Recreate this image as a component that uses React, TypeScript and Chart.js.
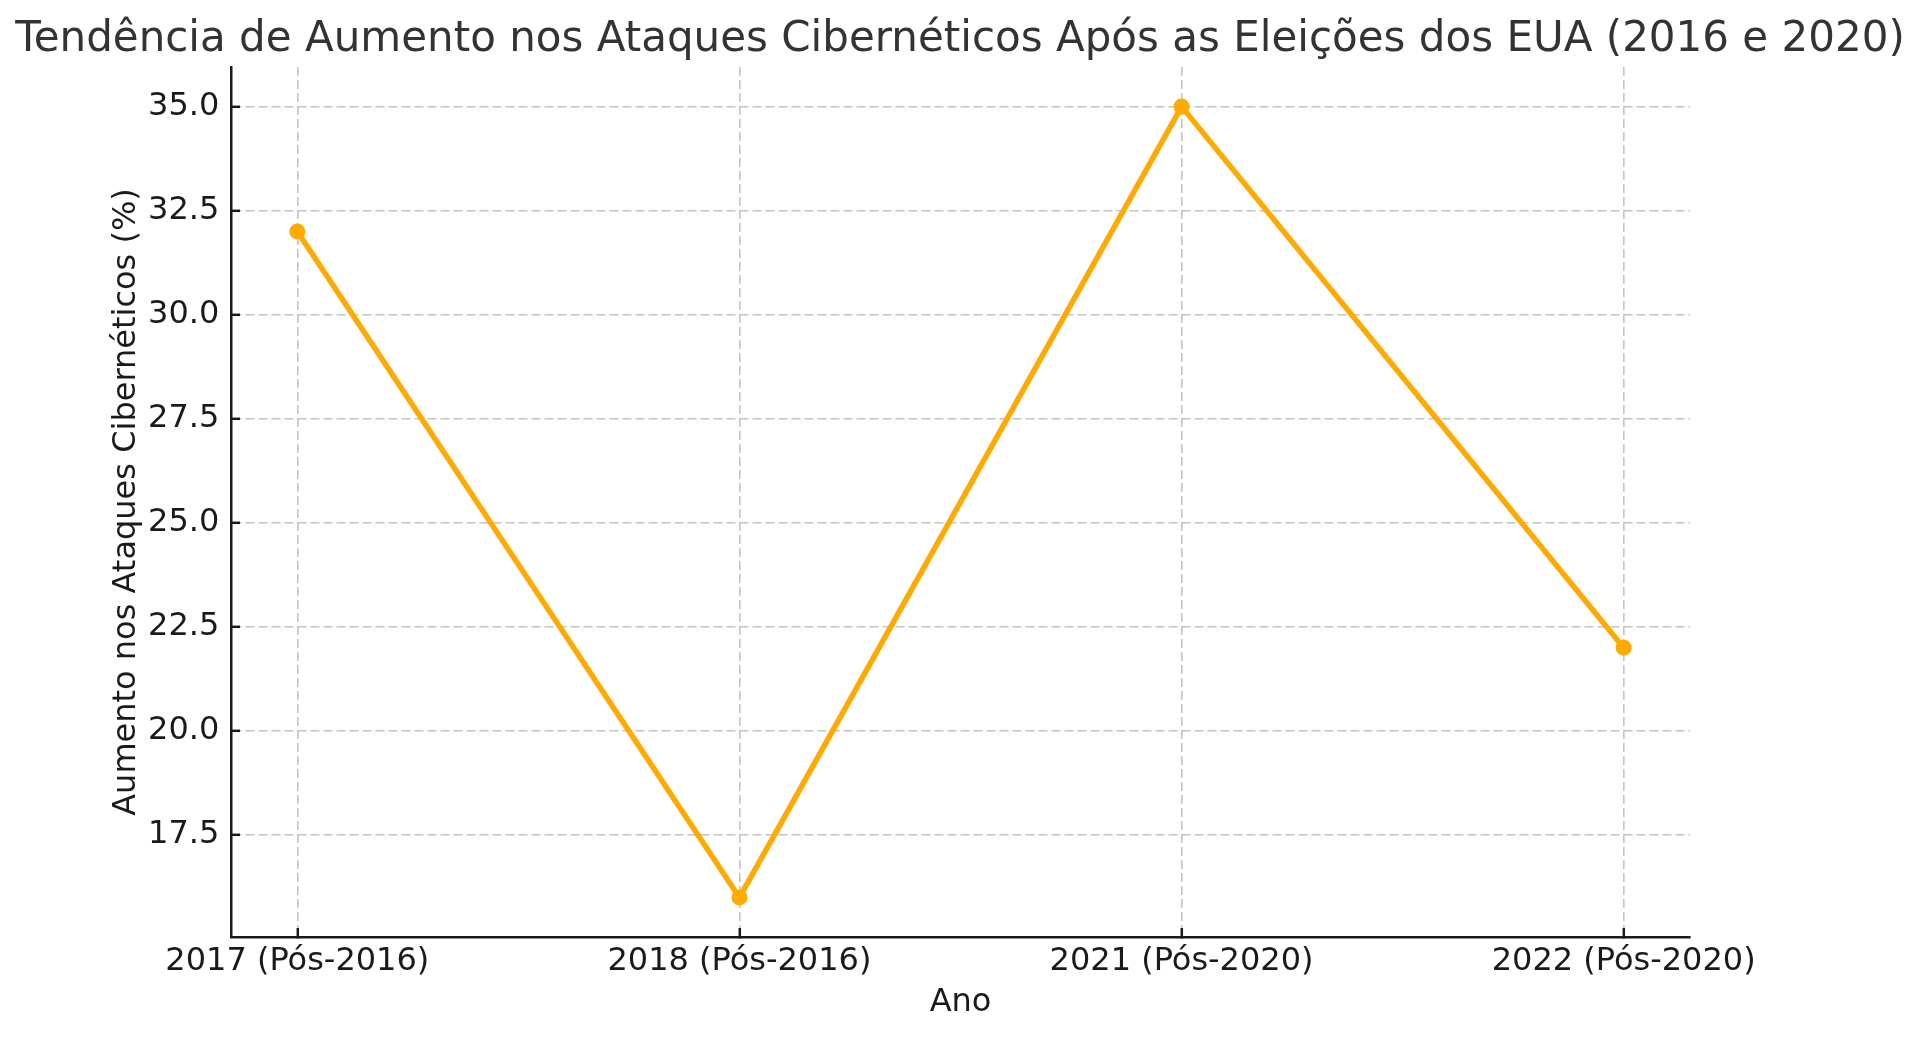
import { useEffect, useRef } from 'react';
import { Chart, registerables } from 'chart.js';

Chart.register(...registerables);

// data
const categories = ['2017 (Pós-2016)', '2018 (Pós-2016)', '2021 (Pós-2020)', '2022 (Pós-2020)'];
const increases = [32, 16, 35, 22];
const yTicks = [17.5, 20, 22.5, 25, 27.5, 30, 32.5, 35];

const FONT = "'DejaVu Sans', sans-serif";
const ORANGE = '#FFAA00';
const INK = '#1a1a1a';
const GRID = '#c4c4c4';

export default function App() {
  const chartRef = useRef<HTMLCanvasElement>(null);
  const chartInstance = useRef<Chart | null>(null);

  useEffect(() => {
    if (!chartRef.current) return;
    const ctx = chartRef.current.getContext('2d');
    if (!ctx) return;

    if (chartInstance.current) {
      chartInstance.current.destroy();
    }

    chartInstance.current = new Chart(ctx, {
      type: 'line',
      data: {
        datasets: [
          {
            data: increases.map((y, i) => ({ x: i, y })),
            borderColor: ORANGE,
            backgroundColor: ORANGE,
            borderWidth: 5.5,
            pointRadius: 8,
            pointHoverRadius: 8,
            pointBorderWidth: 0,
            tension: 0
          }
        ]
      },
      options: {
        responsive: false,
        animation: false,
        devicePixelRatio: 1,
        events: [],
        layout: { padding: 0 },
        plugins: {
          legend: { display: false },
          tooltip: { enabled: false },
          title: {
            display: true,
            text: 'Tendência de Aumento nos Ataques Cibernéticos Após as Eleições dos EUA (2016 e 2020)',
            color: '#333333',
            font: { family: FONT, size: 42, weight: 'normal' },
            padding: { top: 14.8, bottom: 1.8 }
          }
        },
        scales: {
          x: {
            type: 'linear',
            min: -0.15,
            max: 3.15,
            afterBuildTicks: (scale) => {
              scale.ticks = categories.map((_, i) => ({ value: i }));
            },
            afterFit: (scale) => {
              scale.height = 101;
            },
            ticks: {
              callback: (v) => categories[Number(v)] ?? '',
              color: INK,
              font: { family: FONT, size: 32 },
              padding: 14.9,
              maxRotation: 0,
              autoSkip: false
            },
            grid: {
              color: GRID,
              lineWidth: 1.6,
              tickLength: -9,
              tickWidth: 2.5,
              tickColor: INK
            },
            border: { display: true, color: INK, width: 2.5, dash: [9, 4] },
            title: {
              display: true,
              text: 'Ano',
              color: INK,
              font: { family: FONT, size: 32 },
              padding: { top: 0, bottom: 15.8 }
            }
          },
          y: {
            type: 'linear',
            min: 15.05,
            max: 35.95,
            afterBuildTicks: (scale) => {
              scale.ticks = yTicks.map((value) => ({ value }));
            },
            afterFit: (scale) => {
              scale.width = 231;
            },
            ticks: {
              callback: (v) => Number(v).toFixed(1),
              color: INK,
              font: { family: FONT, size: 32 },
              padding: 20.7
            },
            grid: {
              color: GRID,
              lineWidth: 1.6,
              tickLength: -9,
              tickWidth: 2.5,
              tickColor: INK
            },
            border: { display: true, color: INK, width: 2.5, dash: [9, 4] },
            title: {
              display: true,
              text: 'Aumento nos Ataques Cibernéticos (%)',
              color: INK,
              font: { family: FONT, size: 32 },
              padding: { top: 107.3, bottom: 0 }
            }
          },
          // empty box on the right so the plot ends where the reference's does
          spacer: {
            type: 'linear',
            position: 'right',
            min: 0,
            max: 1,
            afterFit: (scale) => {
              scale.width = 230;
            },
            ticks: { display: false },
            grid: { display: false },
            border: { display: false }
          }
        }
      }
    });

    return () => {
      if (chartInstance.current) {
        chartInstance.current.destroy();
        chartInstance.current = null;
      }
    };
  }, []);

  return (
    <div style={{ position: 'fixed', left: 0, top: 0, width: 1920, height: 1038, background: '#fff' }}>
      <canvas ref={chartRef} width={1920} height={1038} style={{ display: 'block', width: 1920, height: 1038 }} />
    </div>
  );
}
